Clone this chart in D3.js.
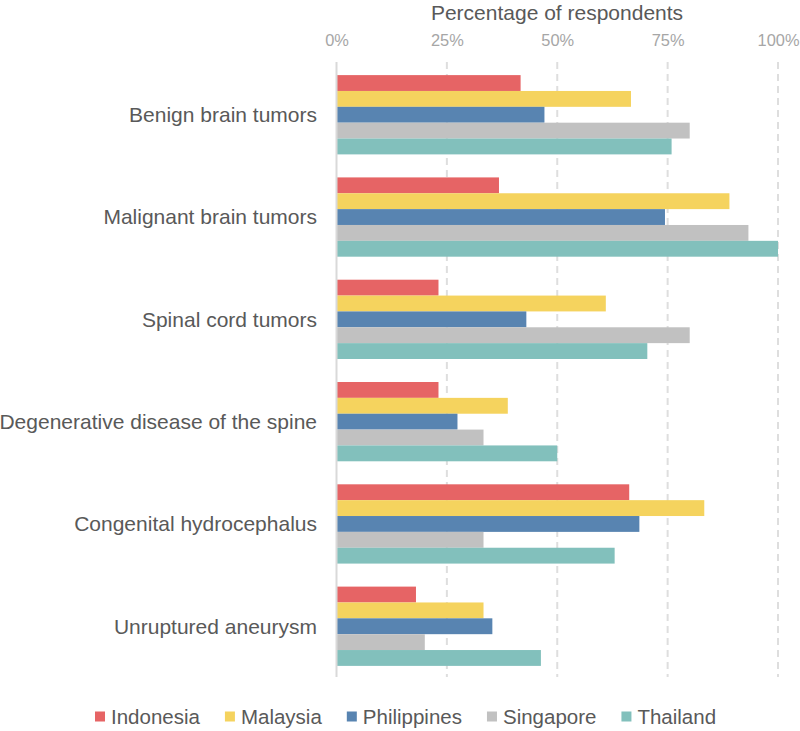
<!DOCTYPE html>
<html><head><meta charset="utf-8">
<script src="https://cdn.jsdelivr.net/npm/d3@7"></script>
<style>body{margin:0;background:#fff;} text{font-family:"Liberation Sans",Arial,sans-serif;}</style>
</head><body>
<svg id="chart" width="800" height="731"></svg>
<script>
const categories = ["Benign brain tumors","Malignant brain tumors","Spinal cord tumors","Degenerative disease of the spine","Congenital hydrocephalus","Unruptured aneurysm"];
const countries = ["Indonesia","Malaysia","Philippines","Singapore","Thailand"];
const colors = ["#E66465","#F5D35E","#5884B1","#C1C1C1","#82C0BC"];
const indonesia   = [41.7, 36.8, 23.1, 23.1, 66.3, 18.0];
const malaysia    = [66.7, 89.0, 61.0, 38.8, 83.3, 33.3];
const philippines = [47.1, 74.4, 43.0, 27.4, 68.6, 35.3];
const singapore   = [80.0, 93.3, 80.0, 33.3, 33.3, 20.0];
const thailand    = [75.9, 100, 70.4, 50.0, 63.0, 46.3];
const tickValues = [0, 25, 50, 75, 100];
const seriesValues = [indonesia, malaysia, philippines, singapore, thailand];

const svg = d3.select("#chart");
const x = d3.scaleLinear().domain([0,100]).range([336.5,778]);
const y = d3.scaleBand().domain(categories).range([63.6,677.4]).paddingInner(0.225).paddingOuter(0.1125);
const ySub = d3.scaleBand().domain(countries).range([0,y.bandwidth()]);

// title
svg.append("text").attr("x",557).attr("y",20).attr("text-anchor","middle")
  .attr("font-size",21).attr("fill","#595959").text("Percentage of respondents");

// grid
svg.append("g").selectAll("line").data(tickValues.filter(d=>d>0)).join("line")
  .attr("x1",d=>x(d)).attr("x2",d=>x(d)).attr("y1",62).attr("y2",677)
  .attr("stroke","#dedede").attr("stroke-width",2).attr("stroke-dasharray","7,5");

// top axis
const ax = svg.append("g").attr("transform","translate(0,46)")
  .call(d3.axisTop(x).tickValues(tickValues).tickFormat(d=>d+"%").tickSize(0).tickPadding(0));
ax.select(".domain").remove();
ax.selectAll("text").attr("font-size",16.4).attr("fill","#a6a6a6").attr("font-family","Liberation Sans, Arial, sans-serif");

// bars
const groups = svg.append("g").selectAll("g").data(categories).join("g")
  .attr("transform",d=>`translate(0,${y(d)})`);
groups.selectAll("rect").data((c,i)=>countries.map((k,j)=>({k,j,v:seriesValues[j][i]}))).join("rect")
  .attr("x",x(0)).attr("y",d=>ySub(d.k)).attr("height",ySub.bandwidth())
  .attr("width",d=>x(d.v)-x(0)).attr("fill",d=>colors[d.j]);

// zero line
svg.append("line").attr("x1",x(0)).attr("x2",x(0)).attr("y1",62).attr("y2",677)
  .attr("stroke","#d9d9d9").attr("stroke-width",2);

// category labels
svg.append("g").selectAll("text").data(categories).join("text")
  .attr("x",317).attr("y",d=>y(d)+y.bandwidth()/2).attr("dy","0.35em")
  .attr("text-anchor","end").attr("font-size",21).attr("fill","#595959").text(d=>d);

// legend
const leg = svg.append("g");
let lx = 95;
countries.forEach((c,i)=>{
  leg.append("rect").attr("x",lx).attr("y",711.5).attr("width",10).attr("height",10).attr("fill",colors[i]);
  const t = leg.append("text").attr("x",lx+16).attr("y",716.5).attr("dy","0.35em")
    .attr("font-size",20.5).attr("fill","#595959").text(c);
  lx += 16 + t.node().getComputedTextLength() + 25;
});
</script>
</body></html>
